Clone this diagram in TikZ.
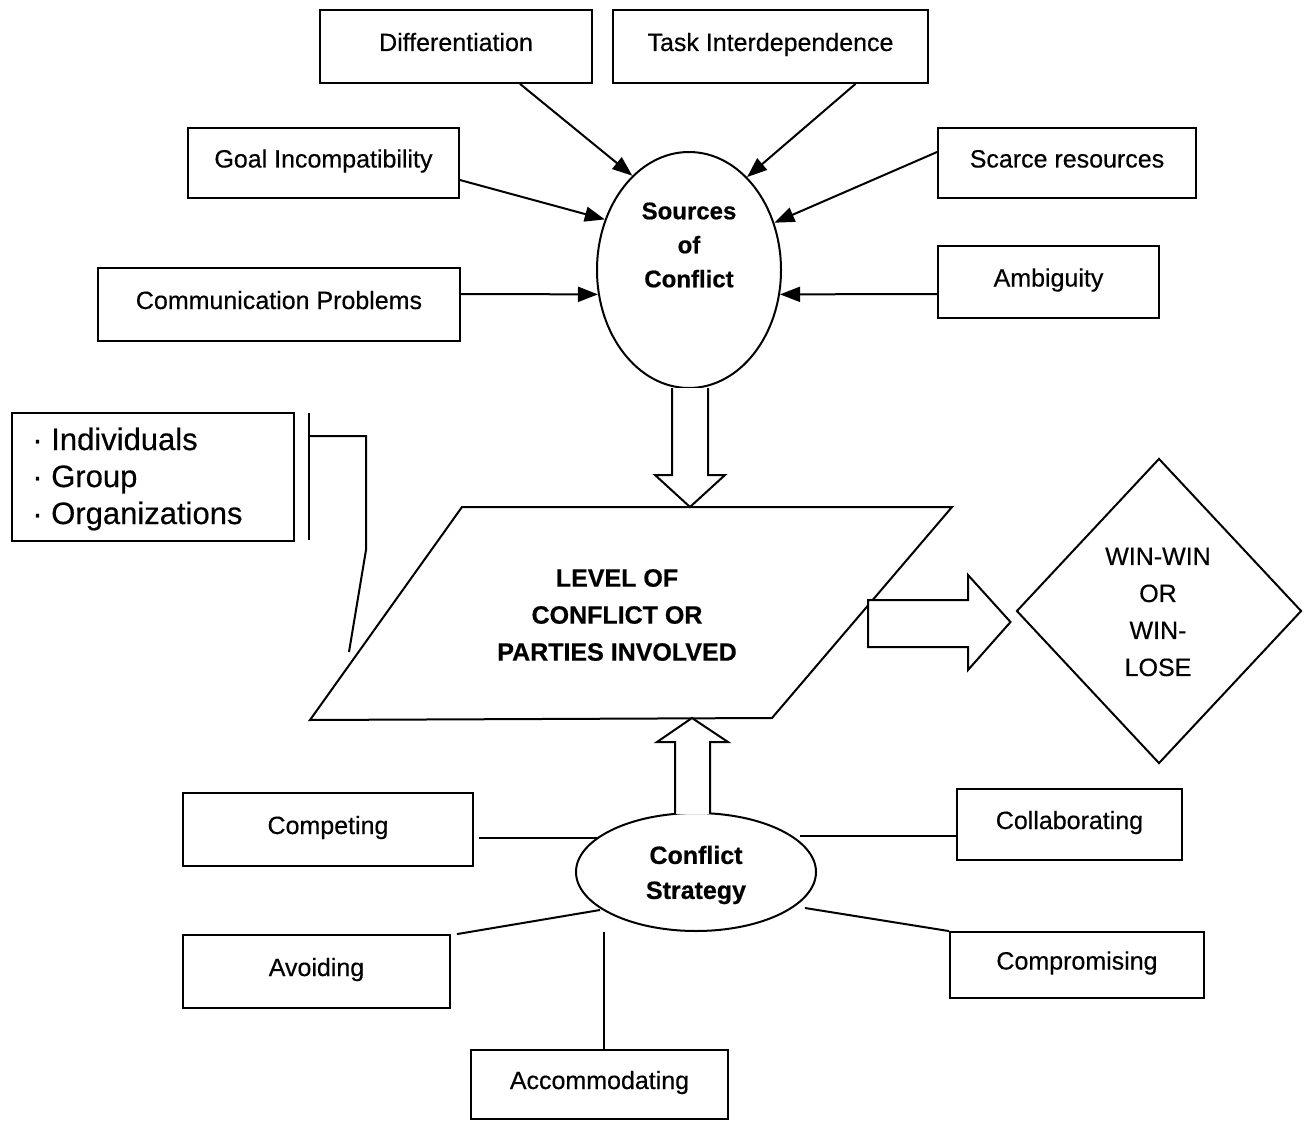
\documentclass[tikz,border=0pt]{standalone}
\usepackage{fontspec}
\setmainfont[FakeBold=0.4]{Liberation Sans}
\newfontfamily\headfont[FakeBold=0.6]{Liberation Sans Bold}
\usetikzlibrary{arrows.meta,shapes.geometric,calc}
\begin{document}
\begin{tikzpicture}[x=1pt,y=-1pt,
  line width=2pt,
  box/.style={draw, line width=1.8pt, rectangle, inner sep=0pt,
    font=\fontsize{25}{30}\selectfont, text height=18pt, text depth=9pt},
  lead/.style={-{Triangle[length=20pt,width=15pt]}, line width=2pt},
  spoke/.style={line width=2pt},
  hollow/.style={draw, line width=2pt, fill=white, line join=miter},
  boldtxt/.style={font=\fontsize{24}{34}\selectfont\headfont, align=center},
  plain/.style={font=\fontsize{25}{37}\selectfont, align=center}
]
\useasboundingbox (0,0) rectangle (1310,1121);

% sources of conflict
\node[box, minimum width=272pt, minimum height=73pt] (dif)    at (456,46.5)  {Differentiation};
\node[box, minimum width=315pt, minimum height=73pt] (task)   at (770.5,46.5) {Task Interdependence};
\node[box, minimum width=271pt, minimum height=70pt] (goal)   at (323.5,163) {Goal Incompatibility};
\node[box, minimum width=258pt, minimum height=70pt] (scarce) at (1067,163)  {Scarce resources};
\node[box, minimum width=362pt, minimum height=73pt] (comm)   at (279,304.5) {Communication Problems};
\node[box, minimum width=221pt, minimum height=72pt] (ambig)  at (1048.5,282) {Ambiguity};

\node[draw, ellipse, line width=2pt, minimum width=184pt, minimum height=236pt, inner sep=0pt] (src) at (689,270) {};
\node[boldtxt] (srcT) at (689,245) {Sources\\of\\Conflict};

\draw[lead] ([xshift=64pt]dif.south)    -- (src.121);
\draw[lead] ([xshift=85pt]task.south)   -- (src.58);
\draw[lead] ([yshift=-17pt]goal.east)   -- (src.149);
\draw[lead] ([yshift=11pt]scarce.west)  -- (src.29);
\draw[lead] ([yshift=10.5pt]comm.east)  -- (src.195);
\draw[lead] ([yshift=-12pt]ambig.west)  -- (src.-15);

% level of conflict
\coordinate (pTL) at (462,507);
\coordinate (pTR) at (952,507);
\coordinate (pBR) at (772,718);
\coordinate (pBL) at (310,720);
\draw[line width=2pt, line join=miter] (pTL) -- (pTR) -- (pBR) -- (pBL) -- cycle;
\node[font=\fontsize{25}{37}\selectfont\headfont, align=center] (lvl) at (617,615)
  {LEVEL OF\\CONFLICT OR\\PARTIES INVOLVED};

% hollow arrow: sources -> level
\coordinate (dTip) at (690,507);
\draw[hollow] (672,388) -- (672,475) -- (655,475) -- (dTip) -- (725,475) -- (708,475) -- (708,388);

% parties involved
\node[draw, line width=1.8pt, minimum width=282pt, minimum height=128pt, inner sep=0pt] (parties) at (153,477) {};
\node[anchor=west, font=\fontsize{31}{37}\selectfont, align=left] (partiesT) at (28,479)
  {· Individuals\\· Group\\· Organizations};
\coordinate (brTop) at (309,413);
\coordinate (brBot) at (309,540);
\coordinate (brA) at (309,436);
\coordinate (brB) at (366,436);
\coordinate (brC) at (366,550);
\coordinate (brEnd) at (349,652);
\draw[spoke] (brTop) -- (brBot);
\draw[spoke] (brA) -- (brB) -- (brC) -- (brEnd);

% outcome
\node[draw, diamond, line width=2pt, minimum width=285pt, minimum height=305pt, inner sep=0pt] (win) at (1159,611) {};
\node[plain] (winT) at (1158,612) {WIN-WIN\\OR\\WIN-\\LOSE};
\coordinate (rTip) at ($(win.west)+(-5,11)$);
\draw[hollow] (868,600) -- (968,600) -- (968,575) -- (rTip) -- (968,670) -- (968,647) -- (868,647) -- cycle;

% conflict strategy
\node[draw, ellipse, line width=2pt, minimum width=240pt, minimum height=118pt, inner sep=0pt] (cs) at (696,872) {};
\node[font=\fontsize{25}{35}\selectfont\headfont, align=center] (csT) at (696,875) {Conflict\\Strategy};

\coordinate (uTip) at (692,718);
\draw[hollow] (675,814) -- (675,742) -- (657,742) -- (uTip) -- (728,742) -- (710,742) -- (710,814);

\node[box, minimum width=290pt, minimum height=73pt] (compet) at (328,829.5)  {Competing};
\node[box, minimum width=225pt, minimum height=71pt] (collab) at (1069.5,824.5) {Collaborating};
\node[box, minimum width=267pt, minimum height=73pt] (avoid)  at (316.5,971.5) {Avoiding};
\node[box, minimum width=254pt, minimum height=66pt] (compro) at (1077,965)   {Compromising};
\node[box, minimum width=257pt, minimum height=69pt] (accom)  at (599.5,1084.5) {Accommodating};

\draw[spoke] ([xshift=5pt,yshift=-8.5pt]compet.east) -- (598,838);
\draw[spoke] (800,836) -- ([yshift=-11.5pt]collab.west);
\draw[spoke] ([xshift=6pt]avoid.north east) -- (600,910);
\draw[spoke] (805,908) -- (compro.north west);
\draw[spoke] (604,932) -- ([xshift=4.5pt]accom.north);
\end{tikzpicture}
\end{document}
